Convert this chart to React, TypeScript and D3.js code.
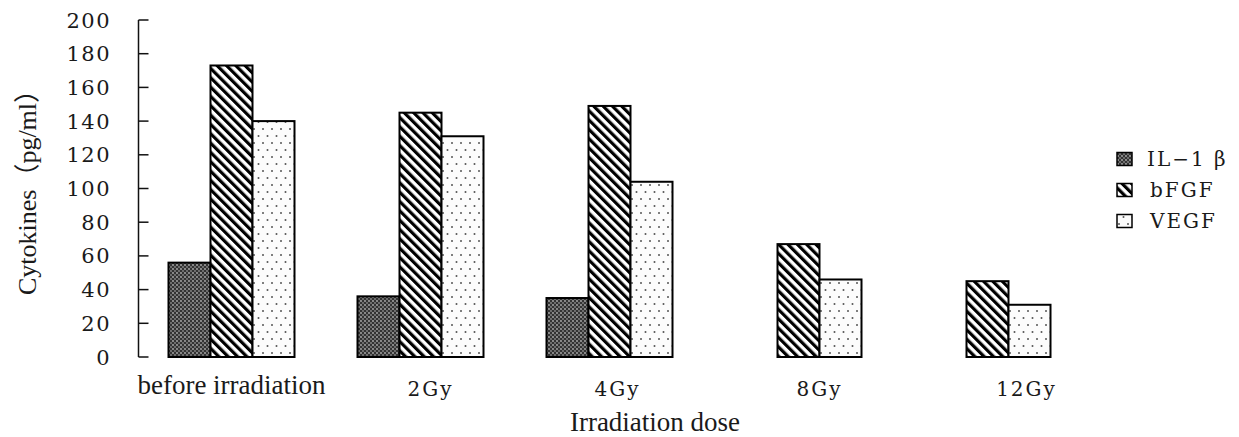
import React, { useRef, useEffect } from "react";
import * as d3 from "d3";

const categories = ["before irradiation", "2Gy", "4Gy", "8Gy", "12Gy"];
const seriesNames = ["IL−1 β", "bFGF", "VEGF"];
const il1b = [56, 36, 35, 0, 0];
const bfgf = [173, 145, 149, 67, 45];
const vegf = [140, 131, 104, 46, 31];
const yTicks = [0, 20, 40, 60, 80, 100, 120, 140, 160, 180, 200];

// label nudges seen in the original layout
const labelShift = [0, 10, 8, 21, 39];

const W = 1239;
const H = 437;

const App: React.FC = () => {
  const ref = useRef<SVGSVGElement | null>(null);

  useEffect(() => {
    const svg = d3.select(ref.current);
    svg.selectAll("*").remove();
    svg.attr("width", W).attr("height", H);

    const defs = svg.append("defs");

    // IL-1β: dark checker with light dots
    const p1 = defs
      .append("pattern")
      .attr("id", "pIL")
      .attr("patternUnits", "userSpaceOnUse")
      .attr("width", 4)
      .attr("height", 4);
    p1.append("rect").attr("width", 4).attr("height", 4).attr("fill", "#333");
    p1.append("circle").attr("cx", 1).attr("cy", 1).attr("r", 0.9).attr("fill", "#b0b0b0");
    p1.append("circle").attr("cx", 3).attr("cy", 3).attr("r", 0.9).attr("fill", "#8a8a8a");

    // bFGF: backslash stripes
    const p2 = defs
      .append("pattern")
      .attr("id", "pBF")
      .attr("patternUnits", "userSpaceOnUse")
      .attr("width", 6.6)
      .attr("height", 10)
      .attr("patternTransform", "rotate(-45)");
    p2.append("rect").attr("width", 6.6).attr("height", 10).attr("fill", "#fff");
    p2.append("rect").attr("width", 3.2).attr("height", 10).attr("fill", "#000");

    // VEGF: sparse dots
    const p3 = defs
      .append("pattern")
      .attr("id", "pVE")
      .attr("patternUnits", "userSpaceOnUse")
      .attr("width", 9)
      .attr("height", 14);
    p3.append("rect").attr("width", 9).attr("height", 14).attr("fill", "#fcfcfc");
    p3.append("circle").attr("cx", 2).attr("cy", 3).attr("r", 1).attr("fill", "#555");
    p3.append("circle").attr("cx", 6.5).attr("cy", 10).attr("r", 1).attr("fill", "#555");

    const fills = ["url(#pIL)", "url(#pBF)", "url(#pVE)"];
    const series = [il1b, bfgf, vegf];

    const x0 = d3
      .scaleBand<string>()
      .domain(categories)
      .range([137, 1082])
      .paddingInner(1 / 3)
      .paddingOuter(1 / 6);
    const x1 = d3
      .scaleBand<number>()
      .domain([0, 1, 2])
      .range([0, x0.bandwidth()]);
    const y = d3.scaleLinear().domain([0, 200]).range([357, 20]);

    const axisX = 138.5;

    // y axis
    const g = svg.append("g");
    g.append("line")
      .attr("x1", axisX)
      .attr("x2", axisX)
      .attr("y1", y(200))
      .attr("y2", y(0))
      .attr("stroke", "#111")
      .attr("stroke-width", 1.5);
    g.selectAll(".tick")
      .data(yTicks)
      .enter()
      .append("line")
      .attr("x1", axisX)
      .attr("x2", axisX + 10)
      .attr("y1", (d) => y(d))
      .attr("y2", (d) => y(d))
      .attr("stroke", "#111")
      .attr("stroke-width", 1.5);
    g.selectAll(".tl")
      .data(yTicks)
      .enter()
      .append("text")
      .attr("x", 111)
      .attr("y", (d) => y(d))
      .attr("dy", "0.36em")
      .attr("text-anchor", "end")
      .attr("font-family", "DejaVu Serif")
      .attr("font-size", 21)
      .attr("letter-spacing", 1.5)
      .attr("fill", "#1a1a1a")
      .text((d) => d);

    // bars
    series.forEach((vals, si) => {
      svg
        .append("g")
        .selectAll("rect")
        .data(vals.map((v, i) => ({ v, c: categories[i] })).filter((d) => d.v > 0))
        .enter()
        .append("rect")
        .attr("x", (d) => (x0(d.c) ?? 0) + (x1(si) ?? 0))
        .attr("y", (d) => y(d.v))
        .attr("width", x1.bandwidth())
        .attr("height", (d) => y(0) - y(d.v))
        .attr("fill", fills[si])
        .attr("stroke", "#000")
        .attr("stroke-width", 2);
    });

    // category labels
    svg
      .append("g")
      .selectAll("text")
      .data(categories)
      .enter()
      .append("text")
      .attr("x", (d, i) => (x0(d) ?? 0) + x0.bandwidth() / 2 + labelShift[i])
      .attr("y", (d, i) => (i === 0 ? 394 : 396))
      .attr("text-anchor", "middle")
      .attr("font-family", (d, i) => (i === 0 ? "Liberation Serif" : "DejaVu Serif"))
      .attr("font-size", (d, i) => (i === 0 ? 27 : 20))
      .attr("letter-spacing", (d, i) => (i === 0 ? 0 : 2))
      .attr("fill", "#1a1a1a")
      .text((d) => d);

    // axis titles
    svg
      .append("text")
      .attr("x", 655)
      .attr("y", 431)
      .attr("text-anchor", "middle")
      .attr("font-family", "Liberation Serif")
      .attr("font-size", 27)
      .attr("fill", "#1a1a1a")
      .text("Irradiation dose");

    svg
      .append("text")
      .attr("transform", "translate(36,186) rotate(-90)")
      .attr("text-anchor", "middle")
      .attr("font-family", "Liberation Serif, 'Noto Sans CJK SC'")
      .attr("font-size", 26)
      .attr("fill", "#1a1a1a")
      .text("Cytokines（pg/ml）");

    // legend
    const lg = svg
      .append("g")
      .selectAll("g")
      .data(seriesNames)
      .enter()
      .append("g")
      .attr("transform", (d, i) => `translate(1117,${159 + i * 31})`);
    lg.append("rect")
      .attr("x", 0)
      .attr("y", -6.5)
      .attr("width", 15)
      .attr("height", 13)
      .attr("fill", (d, i) => fills[i])
      .attr("stroke", "#000")
      .attr("stroke-width", 1.5);
    lg.append("text")
      .attr("x", (d, i) => (i === 0 ? 30 : 33))
      .attr("y", 0)
      .attr("dy", "0.36em")
      .attr("font-family", "DejaVu Serif")
      .attr("font-size", 20)
      .attr("letter-spacing", 2)
      .attr("fill", "#1a1a1a")
      .text((d) => d);
  }, []);

  return (
    <div style={{ position: "absolute", left: 0, top: 0, background: "#fff" }}>
      <svg ref={ref} />
    </div>
  );
};

export default App;
